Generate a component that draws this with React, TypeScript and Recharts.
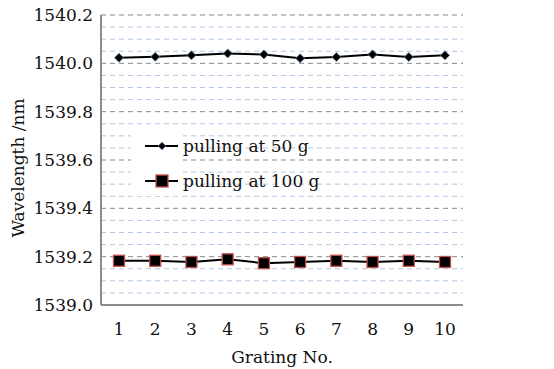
import React from 'react';
import { LineChart, Line, XAxis, YAxis, ReferenceLine } from 'recharts';

const gratings = ['1', '2', '3', '4', '5', '6', '7', '8', '9', '10'];
const pulling50 = [1540.023, 1540.027, 1540.033, 1540.041, 1540.037, 1540.021, 1540.026, 1540.037, 1540.026, 1540.033];
const pulling100 = [1539.183, 1539.183, 1539.178, 1539.189, 1539.173, 1539.178, 1539.183, 1539.178, 1539.183, 1539.178];
const majorTicks = [1539.0, 1539.2, 1539.4, 1539.6, 1539.8, 1540.0, 1540.2];
const minorTicks = [
  1539.05, 1539.1, 1539.15, 1539.25, 1539.3, 1539.35, 1539.45, 1539.5, 1539.55,
  1539.65, 1539.7, 1539.75, 1539.85, 1539.9, 1539.95, 1540.05, 1540.1, 1540.15,
];
const seriesNames = ['pulling at 50 g', 'pulling at 100 g'];

const data = gratings.map((g, i) => ({ g, a: pulling50[i], b: pulling100[i] }));

const FONT = '"DejaVu Serif", serif';

const Diamond = (props: any) => {
  const { cx, cy, size = 4.5 } = props;
  if (cx == null || cy == null) return null;
  return (
    <polygon
      points={`${cx},${cy - size} ${cx + size},${cy} ${cx},${cy + size} ${cx - size},${cy}`}
      fill="#000"
      stroke="#5b7aa0"
      strokeWidth={0.8}
    />
  );
};

const Square = (props: any) => {
  const { cx, cy, size = 5.5 } = props;
  if (cx == null || cy == null) return null;
  return (
    <rect x={cx - size} y={cy - size} width={size * 2} height={size * 2} fill="#000" stroke="#c0504d" strokeWidth={1.3} />
  );
};

const YLabel = (props: any) => {
  const vb = props.viewBox || {};
  const cx = (vb.x || 0) + 18;
  const cy = (vb.y || 0) + (vb.height || 0) / 2 + 8;
  return (
    <text
      transform={`translate(${cx},${cy}) rotate(-90)`}
      textAnchor="middle"
      dominantBaseline="central"
      fontFamily={FONT}
      fontSize={17}
      fill="#111"
    >
      Wavelength /nm
    </text>
  );
};

const LegendBox = () => (
  <div style={{ position: 'absolute', left: 131, top: 128, fontFamily: FONT, fontSize: 17, color: '#111' }}>
    <div style={{ position: 'absolute', left: 0, top: 2, width: 52, height: 66, background: '#fff' }} />
    {seriesNames.map((name, i) => (
      <div key={name} style={{ position: 'relative', display: 'flex', alignItems: 'center', height: 35 }}>
        <svg width={52} height={20} style={{ display: 'block' }}>
          <line x1={14} y1={10} x2={47} y2={10} stroke="#000" strokeWidth={2} />
          {i === 0 ? (
            <Diamond cx={31} cy={10} size={3.8} />
          ) : (
            <rect x={25} y={4} width={12} height={12} fill="#000" stroke="#c0504d" strokeWidth={1.3} />
          )}
        </svg>
        <span style={{ whiteSpace: 'nowrap' }}>{name}</span>
      </div>
    ))}
  </div>
);

export default function App() {
  return (
    <div style={{ position: 'absolute', left: 0, top: 0, width: 554, height: 369, background: '#fff' }}>
      <LineChart width={554} height={369} data={data} margin={{ top: 15, right: 91, bottom: 0, left: 0 }}>
        {minorTicks.map((v) => (
          <ReferenceLine key={'m' + v} y={v} stroke="#b4c6e2" strokeDasharray="5 4" strokeWidth={1} />
        ))}
        {majorTicks.slice(1).map((v) => (
          <ReferenceLine key={'M' + v} y={v} stroke="#8a8a8a" strokeDasharray="5 4" strokeWidth={1} />
        ))}
        <XAxis
          dataKey="g"
          height={64}
          padding={{ left: 18, right: 18 }}
          axisLine={{ stroke: '#8c8c8c', strokeWidth: 2 }}
          tickLine={false}
          tickMargin={12}
          tick={{ fontFamily: FONT, fontSize: 17, fill: '#111' }}
          interval={0}
          label={{ value: 'Grating No.', position: 'insideBottom', offset: 6, fontFamily: FONT, fontSize: 17, fill: '#111' }}
        />
        <YAxis
          width={101}
          domain={[1539.0, 1540.2]}
          ticks={majorTicks}
          interval={0}
          tickFormatter={(v: number) => v.toFixed(1)}
          axisLine={{ stroke: '#8c8c8c', strokeWidth: 2 }}
          tickLine={false}
          tick={{ fontFamily: FONT, fontSize: 17, fill: '#111' }}
          label={<YLabel />}
        />
        <Line
          type="linear"
          dataKey="a"
          name={seriesNames[0]}
          stroke="#000"
          strokeWidth={2}
          dot={<Diamond />}
          isAnimationActive={false}
        />
        <Line
          type="linear"
          dataKey="b"
          name={seriesNames[1]}
          stroke="#000"
          strokeWidth={2}
          dot={<Square />}
          isAnimationActive={false}
        />
      </LineChart>
      <LegendBox />
    </div>
  );
}
